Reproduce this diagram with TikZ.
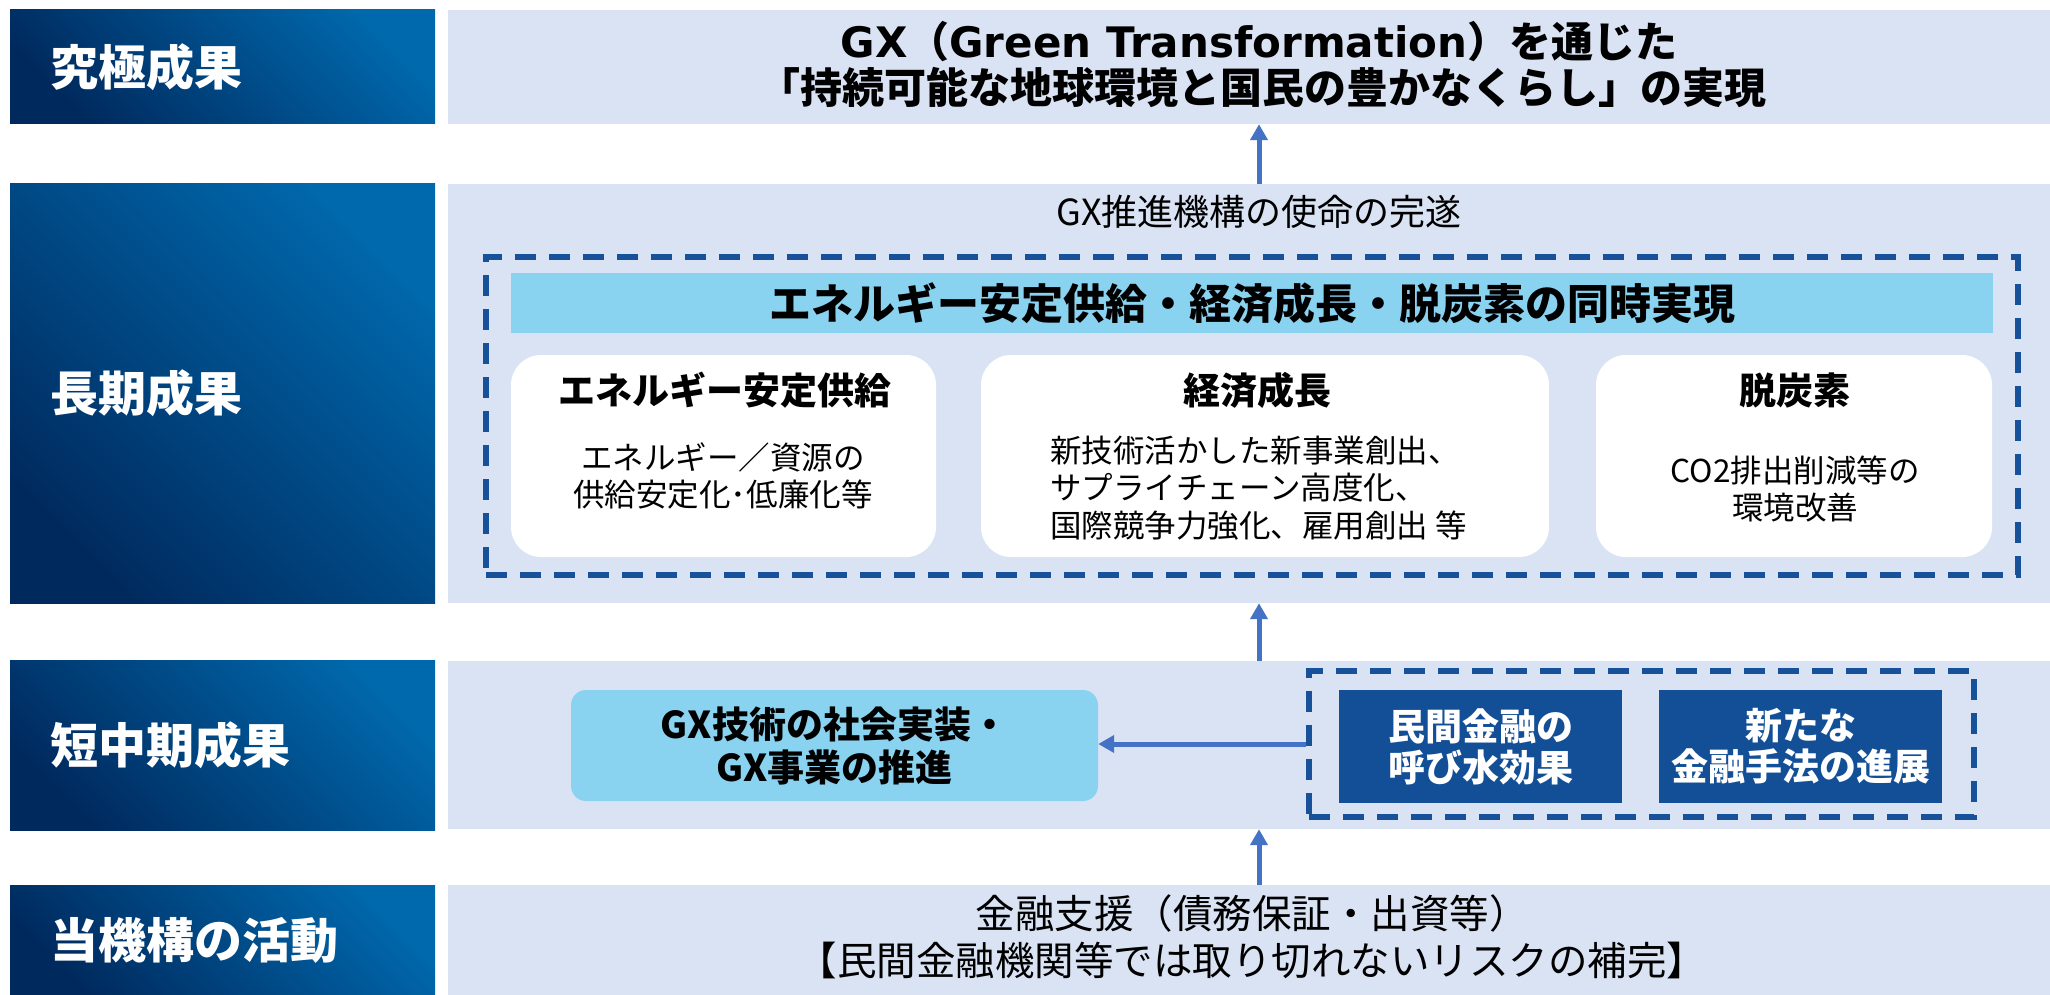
\documentclass[tikz,border=0pt]{standalone}
\usepackage{fontspec}
\setmainfont{Noto Sans CJK JP}
\newfontfamily\latf{DejaVu Sans}
\usetikzlibrary{arrows.meta}
\definecolor{navyD}{HTML}{002A5E}
\definecolor{navyL}{HTML}{0068AC}
\definecolor{panelC}{HTML}{DAE3F3}
\definecolor{dashC}{HTML}{17519A}
\definecolor{dboxC}{HTML}{134F96}
\definecolor{lblue}{HTML}{89D3F1}
\definecolor{arrC}{HTML}{4472C4}
\begin{document}
\begin{tikzpicture}[x=1pt,y=-1pt,
  panel/.style={fill=panelC, inner sep=0pt, minimum width=1602pt},
  lab/.style={inner sep=0pt, minimum width=425pt, bottom color=navyD, top color=navyL, shading angle=-45},
  labtxt/.style={inner sep=0pt, text=white, font=\fontsize{48}{52}\selectfont\bfseries},
  bigt/.style={inner sep=0pt, font=\fontsize{42}{48}\selectfont\bfseries},
  midt/.style={inner sep=0pt, font=\fontsize{36}{40}\selectfont},
  dashbox/.style={draw=dashC, line width=5.5pt, dash pattern=on 21pt off 13pt, inner sep=0pt},
  bartitle/.style={fill=lblue, inner sep=0pt, minimum width=1482pt, minimum height=60pt, font=\fontsize{42}{48}\selectfont\bfseries},
  wbox/.style={fill=white, rounded corners=30pt, inner sep=0pt, minimum height=202pt},
  boxt/.style={inner sep=0pt, font=\fontsize{37}{42}\selectfont\bfseries},
  bodyt/.style={inner sep=0pt, font=\fontsize{31.5}{37.5}\selectfont},
  gxbox/.style={fill=lblue, rounded corners=15pt, inner sep=0pt, minimum width=527pt, minimum height=111pt, align=center, font=\fontsize{37}{43}\selectfont\bfseries},
  dbox/.style={fill=dboxC, inner sep=0pt, minimum width=283pt, minimum height=113pt, align=center, text=white, font=\fontsize{37}{41}\selectfont\bfseries},
  arr/.style={draw=arrC, line width=5pt, -{Triangle[length=16pt,width=17pt]}}
]
\useasboundingbox (0,0) rectangle (2050,995);
\fill[white] (0,0) rectangle (2050,995);

% ---- left labels ----
\node[lab, minimum height=114pt] (L1) at (222.5,67) {};
\node[lab, minimum height=419pt] (L2) at (222.5,393.5) {};
\node[lab, minimum height=170pt] (L3) at (222.5,745) {};
\node[lab, minimum height=110pt] (L4) at (222.5,940) {};
\node[labtxt, anchor=west] (L1t) at ([xshift=40pt]L1.west) {究極成果};
\node[labtxt, anchor=west] (L2t) at ([xshift=40pt]L2.west) {長期成果};
\node[labtxt, anchor=west] (L3t) at ([xshift=40pt]L3.west) {短中期成果};
\node[labtxt, anchor=west] (L4t) at ([xshift=40pt]L4.west) {当機構の活動};

% ---- right panels ----
\node[panel, minimum height=114pt] (R1) at (1249,67) {};
\node[panel, minimum height=419pt] (R2) at (1249,393.5) {};
\node[panel, minimum height=168pt] (R3) at (1249,745) {};
\node[panel, minimum height=110pt] (R4) at (1249,940) {};

% ---- row 1 ----
\node[bigt] (R1a) at (1259,42) {{\latf GX}（{\latf Green Transformation}）を通じた};
\node[bigt] (R1b) at (1262,88) {「持続可能な地球環境と国民の豊かなくらし」の実現};

% ---- row 2 ----
\node[midt] (R2t) at (1259,212) {GX推進機構の使命の完遂};
\node[dashbox, minimum width=1532pt, minimum height=318pt] (D2) at (1252,416) {};
\node[bartitle] (bar) at (1252,303) {エネルギー安定供給・経済成長・脱炭素の同時実現};
\node[wbox, minimum width=425pt] (B1) at (723.5,456) {};
\node[wbox, minimum width=568pt] (B2) at (1265,456) {};
\node[wbox, minimum width=396pt] (B3) at (1794,456) {};
\node[boxt] (B1t) at (725,390) {エネルギー安定供給};
\node[boxt] (B2t) at (1257,390) {経済成長};
\node[boxt] (B3t) at (1795,390) {脱炭素};
\node[bodyt, align=center] (B1b) at (723,476) {エネルギー／資源の\\供給安定化･低廉化等};
\node[bodyt, align=left, anchor=west] (B2b) at (1050,488) {新技術活かした新事業創出、\\サプライチェーン高度化、\\国際競争力強化、雇用創出 等};
\node[bodyt, align=center] (B3b) at (1795,489) {CO2排出削減等の\\環境改善};

% ---- row 3 ----
\node[gxbox] (GX) at (834.5,745.5) {GX技術の社会実装・\\GX事業の推進};
\node[dashbox, minimum width=665pt, minimum height=146pt] (D3) at (1641.5,744) {};
\node[dbox] (DB1) at (1480.5,746.5) {民間金融の\\呼び水効果};
\node[dbox] (DB2) at (1800.5,746.5) {新たな\\金融手法の進展};

% ---- row 4 ----
\node[inner sep=0pt, align=center, font=\fontsize{39.5}{47}\selectfont] (R4t) at (1252,936.5) {金融支援（債務保証・出資等）\\【民間金融機関等では取り切れないリスクの補完】};

% ---- arrows ----
\coordinate (ax) at (1259,0);
\draw[arr] (R2.north -| ax) -- (R1.south -| ax);
\draw[arr] (R3.north -| ax) -- (R2.south -| ax);
\draw[arr] (R4.north -| ax) -- (R3.south -| ax);
\draw[arr] (D3.west) -- (D3.west -| GX.east);
\end{tikzpicture}
\end{document}
